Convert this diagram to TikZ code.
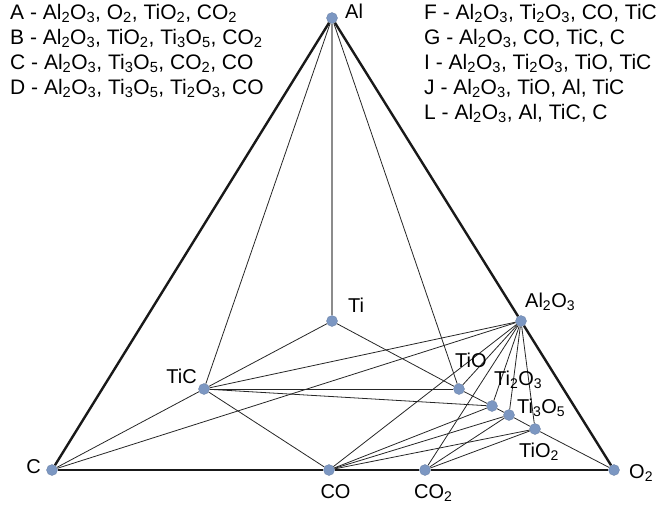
\documentclass[tikz,border=0pt]{standalone}
\usepackage{fontspec}
\setmainfont{Liberation Sans}
\definecolor{dotblue}{RGB}{124,151,194}
\newcommand{\ssb}[1]{\textsubscript{#1}}
\begin{document}
\begin{tikzpicture}[x=1pt,y=-1pt,
  dot/.style={circle,fill=dotblue,draw=dotblue!85!black,line width=0.3pt,minimum size=11pt,inner sep=0pt},
  thin/.style={line width=0.8pt,draw=black!85},
  thick/.style={line width=2.4pt,draw=black!90},
  grayline/.style={line width=1.4pt,draw=black!45},
  lab/.style={inner sep=0pt,font=\fontsize{20}{24}\selectfont},
  leg/.style={inner sep=0pt,anchor=base west,font=\fontsize{21}{25}\selectfont}]
\useasboundingbox (0,0) rectangle (665,512);
% points
\node[dot] (Al) at (332,18) {};
\node[dot] (C) at (52,470) {};
\node[dot] (O2) at (614,470) {};
\node[dot] (CO) at (329,470) {};
\node[dot] (CO2) at (425,470) {};
\node[dot] (Ti) at (332,321) {};
\node[dot] (TiC) at (204,389) {};
\node[dot] (Al2O3) at (521,321) {};
\node[dot] (TiO) at (459,389) {};
\node[dot] (Ti2O3) at (492,406) {};
\node[dot] (Ti3O5) at (509,415) {};
\node[dot] (TiO2) at (535,429) {};
% outer triangle
\draw[thick] (C) -- (Al);
\draw[thick] (Al) -- (Al2O3);
\draw[thick] (Al2O3) -- (O2);
\draw[thick] (C) -- (CO);
\draw[thick] (CO) -- (CO2);
\draw[thick] (CO2) -- (O2);
% Al lines
\draw[grayline] (Al) -- (Ti);
\draw[thin] (Al) -- (TiC);
\draw[thin] (Al) -- (TiO);
% Ti lines
\draw[thin] (Ti) -- (TiC);
\draw[thin] (Ti) -- (TiO);
% Ti-O chain
\draw[thin] (TiO) -- (Ti2O3);
\draw[thin] (Ti2O3) -- (Ti3O5);
\draw[thin] (Ti3O5) -- (TiO2);
\draw[thin] (TiO2) -- (O2);
% TiC lines
\draw[thin] (TiC) -- (C);
\draw[thin] (TiC) -- (CO);
\draw[thin] (TiC) -- (TiO);
\draw[thin] (TiC) -- (Ti2O3);
\draw[thin] (TiC) -- (Al2O3);
% Al2O3 fan
\draw[thin] (Al2O3) -- (C);
\draw[thin] (Al2O3) -- (CO);
\draw[thin] (Al2O3) -- (CO2);
\draw[thin] (Al2O3) -- (TiO);
\draw[thin] (Al2O3) -- (Ti2O3);
\draw[thin] (Al2O3) -- (Ti3O5);
\draw[thin] (Al2O3) -- (TiO2);
% CO lines
\draw[thin] (CO) -- (Ti2O3);
\draw[thin] (CO) -- (Ti3O5);
\draw[thin] (CO) -- (TiO2);
% CO2 lines
\draw[thin] (CO2) -- (Ti3O5);
\draw[thin] (CO2) -- (TiO2);
% labels
\node[lab,anchor=base west] (lAl) at (345,18) {Al};
\node[lab,anchor=base east] (lC) at (41,473) {C};
\node[lab,anchor=base west] (lO2) at (629,478) {O\ssb{2}};
\node[lab,anchor=base] (lCO) at (335.5,498) {CO};
\node[lab,anchor=base west] (lCO2) at (414,498) {CO\ssb{2}};
\node[lab,anchor=base west] (lTi) at (348,312) {Ti};
\node[lab,anchor=base east] (lTiC) at (197,383) {TiC};
\node[lab,anchor=base west] (lAl2O3) at (525,307) {Al\ssb{2}O\ssb{3}};
\node[lab,anchor=base west] (lTiO) at (455,367) {TiO};
\node[lab,anchor=base west] (lTi2O3) at (494,385) {Ti\ssb{2}O\ssb{3}};
\node[lab,anchor=base west] (lTi3O5) at (517,413) {Ti\ssb{3}O\ssb{5}};
\node[lab,anchor=base west] (lTiO2) at (519,457) {TiO\ssb{2}};
% legends
\node[leg] (legA) at (10,19) {A - Al\ssb{2}O\ssb{3}, O\ssb{2}, TiO\ssb{2}, CO\ssb{2}};
\node[leg] (legB) at (10,44) {B - Al\ssb{2}O\ssb{3}, TiO\ssb{2}, Ti\ssb{3}O\ssb{5}, CO\ssb{2}};
\node[leg] (legC) at (10,69) {C - Al\ssb{2}O\ssb{3}, Ti\ssb{3}O\ssb{5}, CO\ssb{2}, CO};
\node[leg] (legD) at (10,94) {D - Al\ssb{2}O\ssb{3}, Ti\ssb{3}O\ssb{5}, Ti\ssb{2}O\ssb{3}, CO};
\node[leg] (legF) at (424,19) {F - Al\ssb{2}O\ssb{3}, Ti\ssb{2}O\ssb{3}, CO, TiC};
\node[leg] (legG) at (424,44) {G - Al\ssb{2}O\ssb{3}, CO, TiC, C};
\node[leg] (legI) at (424,69) {I - Al\ssb{2}O\ssb{3}, Ti\ssb{2}O\ssb{3}, TiO, TiC};
\node[leg] (legJ) at (424,94) {J - Al\ssb{2}O\ssb{3}, TiO, Al, TiC};
\node[leg] (legL) at (424,119) {L - Al\ssb{2}O\ssb{3}, Al, TiC, C};
\end{tikzpicture}
\end{document}
